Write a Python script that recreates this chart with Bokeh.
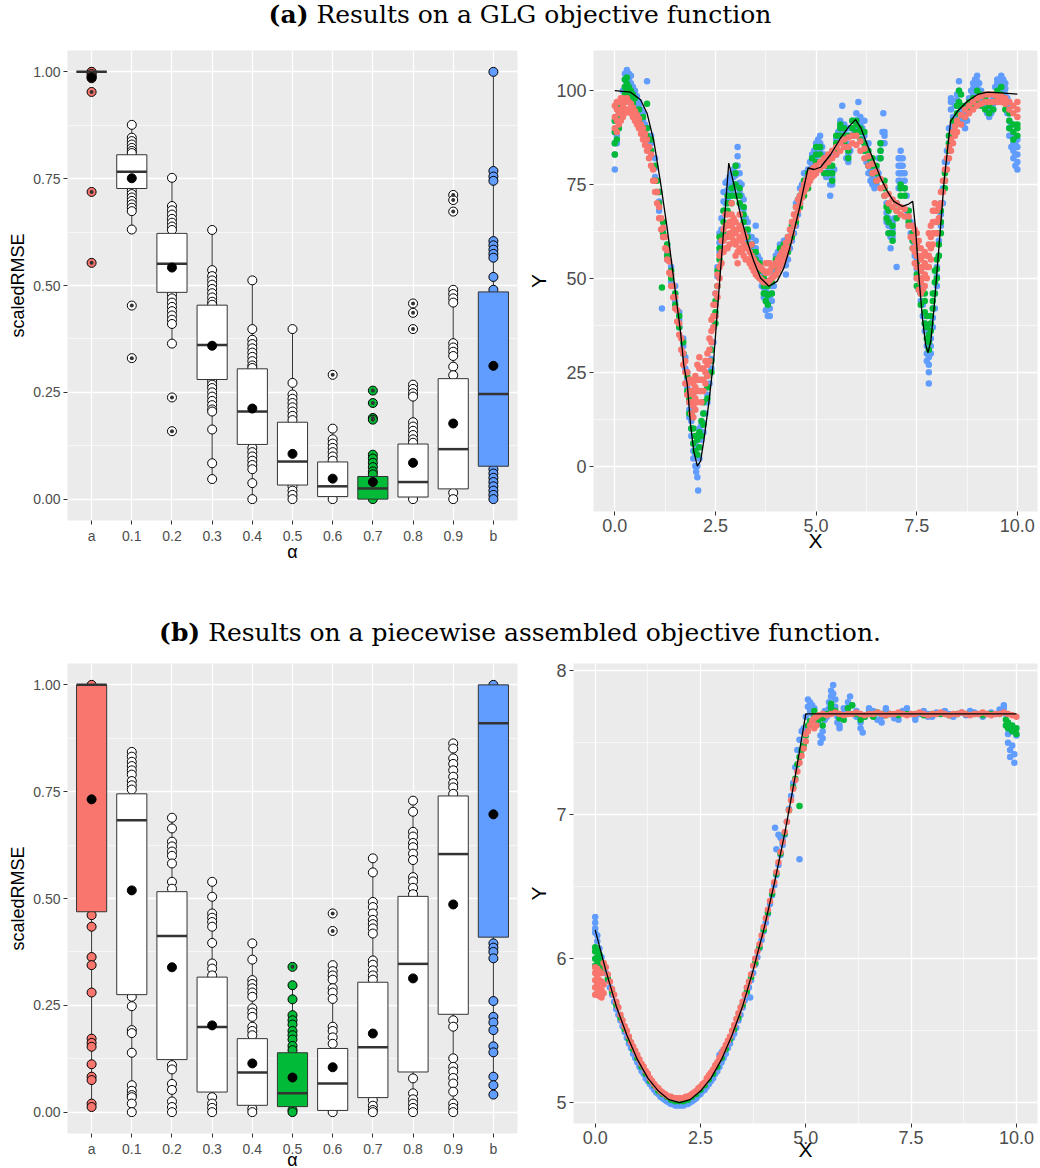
from bokeh.plotting import figure
from bokeh.models import Range1d, FixedTicker, NumeralTickFormatter, Div, ColumnDataSource
from bokeh.layouts import column, row
from bokeh.embed import file_html
from bokeh.resources import INLINE

# ---------------- data ----------------
CATS = ["a", "0.1", "0.2", "0.3", "0.4", "0.5", "0.6", "0.7", "0.8", "0.9", "b"]

# (a) GLG objective: boxplot statistics of scaledRMSE per alpha
GLG_Q1 = [1.000, 0.727, 0.484, 0.280, 0.128, 0.033, 0.006, 0.000, 0.005, 0.024, 0.077]
GLG_MED = [1.000, 0.766, 0.551, 0.361, 0.205, 0.088, 0.030, 0.025, 0.040, 0.117, 0.246]
GLG_Q3 = [1.000, 0.806, 0.622, 0.454, 0.305, 0.180, 0.087, 0.053, 0.129, 0.282, 0.485]
GLG_WLO = [1.000, 0.631, 0.364, 0.047, 0.000, 0.000, 0.000, 0.000, 0.000, 0.000, 0.000]
GLG_WHI = [1.000, 0.876, 0.752, 0.630, 0.512, 0.398, 0.165, 0.104, 0.268, 0.490, 1.000]
GLG_MEAN = [0.987, 0.751, 0.542, 0.359, 0.212, 0.106, 0.048, 0.040, 0.085, 0.177, 0.312]
GLG_PTS = [
    [1.0, 1.0, 0.995, 0.99, 0.985],
    [0.876, 0.846, 0.838, 0.83, 0.822, 0.815, 0.81, 0.722, 0.714, 0.706, 0.698, 0.69, 0.682, 0.674, 0.631],
    [0.752, 0.686, 0.676, 0.666, 0.656, 0.647, 0.638, 0.63, 0.479, 0.47, 0.46, 0.45, 0.44, 0.43, 0.42, 0.41, 0.364],
    [0.630, 0.536, 0.522, 0.512, 0.502, 0.492, 0.482, 0.472, 0.462, 0.455, 0.276, 0.268, 0.26, 0.25, 0.24,
     0.23, 0.22, 0.21, 0.205, 0.163, 0.084, 0.047],
    [0.512, 0.398, 0.373, 0.363, 0.353, 0.343, 0.333, 0.323, 0.313, 0.307, 0.12, 0.11, 0.10, 0.09, 0.08, 0.07,
     0.0375, 0.0],
    [0.398, 0.272, 0.245, 0.235, 0.225, 0.215, 0.205, 0.195, 0.185, 0.03, 0.02, 0.01, 0.0],
    [0.165, 0.14, 0.13, 0.12, 0.11, 0.10, 0.09, 0.0],
    [0.104, 0.095, 0.085, 0.075, 0.065, 0.058, 0.0],
    [0.268, 0.258, 0.248, 0.24, 0.18, 0.17, 0.16, 0.15, 0.14, 0.132, 0.0],
    [0.49, 0.48, 0.47, 0.46, 0.365, 0.355, 0.345, 0.335, 0.31, 0.29, 0.015, 0.0],
    [1.0, 0.768, 0.755, 0.745, 0.604, 0.594, 0.584, 0.574, 0.565, 0.52, 0.49, 0.07, 0.06, 0.05, 0.04, 0.03,
     0.02, 0.01, 0.0],
]
GLG_OUT = [[0.953, 0.719, 0.553], [0.453, 0.330], [0.238, 0.159], [], [], [], [0.291],
           [0.254, 0.225, 0.19, 0.186], [0.458, 0.436, 0.398], [0.712, 0.700, 0.673], []]

# (b) piecewise objective: boxplot statistics
PW_Q1 = [0.469, 0.275, 0.123, 0.047, 0.016, 0.013, 0.004, 0.034, 0.094, 0.229, 0.4095]
PW_MED = [1.000, 0.683, 0.412, 0.199, 0.093, 0.044, 0.067, 0.152, 0.347, 0.604, 0.910]
PW_Q3 = [1.000, 0.745, 0.516, 0.316, 0.172, 0.139, 0.149, 0.304, 0.505, 0.740, 1.000]
PW_WLO = [0.012, 0.0, 0.0, 0.0, 0.0, 0.0, 0.0, 0.0, 0.0, 0.0, 0.040]
PW_WHI = [1.0, 0.843, 0.689, 0.539, 0.395, 0.297, 0.344, 0.594, 0.729, 0.863, 1.0]
PW_MEAN = [0.732, 0.519, 0.339, 0.203, 0.114, 0.081, 0.105, 0.184, 0.313, 0.486, 0.697]
PW_PTS = [
    [1.0, 0.461, 0.434, 0.363, 0.344, 0.280, 0.172, 0.162, 0.153, 0.112, 0.083, 0.075, 0.02, 0.012],
    [0.843, 0.832, 0.82, 0.81, 0.80, 0.79, 0.775, 0.765, 0.755, 0.27, 0.248, 0.192, 0.185, 0.139, 0.063,
     0.05, 0.04, 0.035, 0.02, 0.0],
    [0.689, 0.664, 0.633, 0.622, 0.61, 0.60, 0.582, 0.539, 0.523, 0.11, 0.10, 0.066, 0.052, 0.025, 0.012, 0.0],
    [0.539, 0.504, 0.465, 0.455, 0.445, 0.434, 0.396, 0.348, 0.336, 0.32, 0.035, 0.02, 0.01, 0.0],
    [0.395, 0.357, 0.309, 0.30, 0.29, 0.28, 0.27, 0.243, 0.233, 0.223, 0.20, 0.19, 0.18, 0.008, 0.0],
    [0.297, 0.264, 0.227, 0.215, 0.205, 0.19, 0.18, 0.17, 0.155, 0.145, 0.005, 0.0],
    [0.344, 0.33, 0.32, 0.31, 0.29, 0.28, 0.265, 0.20, 0.19, 0.175, 0.16, 0.0],
    [0.594, 0.561, 0.492, 0.48, 0.465, 0.45, 0.44, 0.43, 0.418, 0.355, 0.345, 0.332, 0.32, 0.31, 0.028,
     0.015, 0.005, 0.0],
    [0.729, 0.703, 0.656, 0.645, 0.63, 0.62, 0.605, 0.59, 0.55, 0.54, 0.525, 0.51, 0.079, 0.044, 0.03,
     0.02, 0.01, 0.0],
    [0.863, 0.851, 0.828, 0.815, 0.80, 0.785, 0.77, 0.76, 0.745, 0.215, 0.2, 0.126, 0.106, 0.095, 0.08,
     0.067, 0.048, 0.02, 0.01, 0.0],
    [1.0, 0.395, 0.385, 0.375, 0.36, 0.26, 0.223, 0.21, 0.192, 0.154, 0.14, 0.083, 0.063, 0.041],
]
PW_OUT = [[], [], [], [], [], [0.340], [0.465, 0.424], [], [], [], []]

# (a) GLG objective: true function (black)
GLG_CURVE_X = [0.0, 0.39, 0.64, 0.80, 0.97, 1.13, 1.30, 1.46, 1.63, 1.71, 1.80, 1.88, 1.96, 2.05, 2.13,
               2.21, 2.34, 2.46, 2.54, 2.63, 2.72, 2.83, 2.96, 3.12, 3.29, 3.45, 3.62, 3.83, 4.03, 4.20,
               4.37, 4.57, 4.80, 4.95, 5.11, 5.36, 5.61, 5.82, 5.98, 6.11, 6.27, 6.44, 6.60, 6.77, 6.93,
               7.14, 7.30, 7.40, 7.47, 7.55, 7.64, 7.72, 7.78, 7.85, 7.93, 8.05, 8.18, 8.34, 8.51, 8.76,
               9.01, 9.26, 9.59, 10.0]
GLG_CURVE_Y = [100.0, 99.6, 97.6, 94.0, 86.5, 75.9, 63.4, 50.1, 35.9, 27.1, 21.7, 11.1, 4.0, 0.0, 1.3,
               6.7, 17.3, 28.8, 40.4, 52.8, 65.2, 80.7, 75.0, 67.0, 59.9, 54.6, 50.1, 47.9, 49.2, 52.8,
               59.0, 67.9, 79.4, 79.0, 79.6, 83.0, 87.4, 90.5, 92.3, 90.1, 85.6, 81.2, 76.8, 73.2, 70.5,
               69.2, 69.8, 70.5, 63.4, 51.0, 39.5, 32.4, 30.2, 33.3, 42.1, 58.1, 75.9, 91.8, 94.5, 97.2,
               99.0, 99.6, 99.4, 99.1]

# (a) fitted points, rows of (x, y readings ...)
GLG_RED = [
    (0.00, 90, 93, 96), (0.05, 89, 92, 95, 97), (0.10, 91, 94, 97), (0.15, 92, 95, 98), (0.20, 93, 96, 98),
    (0.25, 94, 97), (0.30, 95, 98), (0.35, 95, 97), (0.40, 94, 96.5), (0.45, 93, 95.5), (0.50, 92, 94.5),
    (0.55, 91, 93.5), (0.60, 90, 92.5), (0.65, 88.5, 91), (0.70, 87, 90), (0.75, 85.5, 88.5), (0.80, 84, 87),
    (0.85, 82, 85), (0.90, 80, 83), (0.95, 76, 79), (1.00, 73, 76), (1.05, 70, 73), (1.10, 66, 69),
    (1.15, 63, 66), (1.20, 61, 63.5), (1.25, 58, 61), (1.30, 55, 57.5), (1.35, 51.5, 54.5), (1.40, 48, 51),
    (1.45, 45, 48), (1.50, 42, 45), (1.55, 38.5, 41.5), (1.60, 35, 38), (1.65, 31, 34), (1.70, 27, 30),
    (1.75, 22, 25, 28), (1.80, 19, 22, 25), (1.85, 17, 20, 23), (1.90, 14, 17, 20, 23), (1.95, 13, 16, 19, 22),
    (2.00, 15, 18, 21, 24), (2.05, 17, 20, 23, 27), (2.10, 20, 23, 26, 29), (2.15, 17, 20, 23, 26),
    (2.20, 20, 23, 26), (2.25, 22, 25, 28), (2.30, 24, 27, 30), (2.35, 28, 31, 34), (2.40, 33, 36, 39),
    (2.45, 37, 40, 43), (2.50, 40, 43, 46), (2.55, 45, 48, 51), (2.60, 50, 53, 56), (2.65, 54, 57, 60),
    (2.70, 57, 60, 63), (2.75, 58, 61, 64, 67), (2.80, 58, 61, 64, 67), (2.85, 59, 62, 65),
    (2.90, 61, 64, 67, 70), (2.95, 60, 63, 66), (3.00, 56, 59, 62, 65), (3.05, 54, 57, 60, 63),
    (3.10, 58, 61, 64, 67), (3.15, 57, 60, 63), (3.20, 56, 59, 62), (3.25, 55, 58, 61), (3.30, 55, 58),
    (3.35, 54, 57), (3.40, 53, 56, 59), (3.45, 52, 55), (3.50, 51, 54), (3.55, 50.5, 53.5), (3.60, 50, 53),
    (3.65, 49.5, 52.5), (3.70, 49, 52), (3.75, 49, 51.5, 54), (3.80, 49, 51.5, 54), (3.85, 49.5, 52, 54),
    (3.90, 50, 53), (3.95, 50.5, 53.5), (4.00, 51, 54), (4.05, 52, 55), (4.10, 53, 56), (4.15, 54, 57),
    (4.20, 55, 58), (4.25, 56.5, 59.5), (4.30, 58, 61), (4.35, 60, 63), (4.40, 62, 65), (4.45, 64, 67),
    (4.50, 66, 69), (4.55, 68, 71), (4.60, 70, 72), (4.65, 71.5, 73.5), (4.70, 73, 75), (4.75, 74, 76),
    (4.80, 75, 77), (4.85, 76, 78), (4.90, 77, 79), (4.95, 77.5, 79.5), (5.00, 78, 80), (5.10, 79, 81),
    (5.20, 80, 82), (5.30, 81, 83), (5.40, 82, 84), (5.50, 83, 85), (5.60, 84, 86), (5.70, 85, 87),
    (5.80, 85, 87.5), (5.90, 86, 88), (6.00, 85.5, 88), (6.10, 84, 86.5), (6.20, 82, 84.5), (6.30, 80, 82.5),
    (6.40, 78, 80.5), (6.50, 76, 78.5), (6.60, 74, 76.5), (6.70, 72, 74.5), (6.80, 70, 72.5), (6.90, 69, 71),
    (7.00, 68, 70), (7.10, 67, 69), (7.20, 66.5, 68.5), (7.30, 64, 66.5), (7.35, 61, 64), (7.40, 58, 61, 64),
    (7.45, 54, 57, 60, 63), (7.50, 50, 53, 56, 59, 62), (7.55, 47, 50, 53, 56, 60), (7.60, 46, 49, 52, 55, 58),
    (7.65, 47, 50, 53, 56), (7.70, 48, 51, 54, 57), (7.75, 50, 53, 56), (7.80, 53, 56, 59, 62),
    (7.85, 55, 58, 61, 64), (7.90, 59, 62, 65, 68), (7.95, 62, 65, 68, 70), (8.00, 62, 65, 68),
    (8.05, 66, 69), (8.10, 70, 73), (8.15, 73, 76), (8.20, 76, 79), (8.25, 79, 82), (8.30, 82, 85),
    (8.35, 84, 87), (8.40, 86, 89), (8.45, 88, 90.5), (8.50, 89, 92), (8.60, 91, 93.5), (8.70, 93, 95),
    (8.80, 94, 96), (8.90, 95, 97), (9.00, 96, 98), (9.10, 96.5, 98.5), (9.20, 97, 99), (9.30, 97, 99),
    (9.40, 97, 99), (9.50, 97, 98.5), (9.60, 97, 98.5), (9.70, 96.5, 98), (9.80, 95, 97), (9.90, 94, 96),
    (10.00, 93, 95, 97),
]
GLG_GREEN = [
    (0.00, 83, 86, 89, 92), (0.05, 87, 90, 93), (0.10, 90, 93), (0.15, 93, 96), (0.20, 95, 98),
    (0.25, 99, 101, 103), (0.30, 100, 102, 103.5), (0.35, 99, 101), (0.40, 98, 100), (0.45, 96.5, 99),
    (0.50, 95, 98), (0.60, 92, 95), (0.70, 90, 93), (0.80, 88, 90, 96.5), (0.90, 84, 87), (1.00, 76, 80),
    (1.05, 73, 76), (1.10, 70, 73), (1.17, 47.6), (1.20, 62, 65), (1.30, 56, 59), (1.40, 50, 52),
    (1.50, 43, 46), (1.60, 37, 40), (1.70, 30, 33), (1.80, 20, 24), (1.85, 14, 18), (1.90, 10, 14),
    (1.95, 6, 10), (2.00, 4, 8), (2.05, 3, 7), (2.10, 5, 9), (2.15, 8, 12), (2.20, 11, 14, 17),
    (2.30, 18, 21, 24), (2.40, 25, 28, 31), (2.50, 38, 41, 44), (2.55, 48, 52), (2.60, 55, 58, 61),
    (2.70, 62, 65, 68), (2.80, 68, 70, 72), (2.90, 70, 72, 74), (3.00, 72, 75, 78, 80), (3.10, 70, 72, 74),
    (3.20, 65, 67, 69), (3.30, 59, 61, 63), (3.40, 55, 57, 59), (3.50, 53, 55, 57), (3.60, 50, 52, 54),
    (3.70, 46, 48, 50), (3.75, 44, 46, 48), (3.80, 43, 45.5, 48), (3.90, 46, 49), (4.00, 51, 53, 55),
    (4.10, 55, 58), (4.20, 56, 59), (4.30, 57, 59, 61), (4.40, 61, 64), (4.50, 65, 67, 69), (4.60, 69, 72),
    (4.70, 72, 74, 76), (4.80, 74, 76, 78), (4.90, 79, 82), (5.00, 81, 83, 85), (5.10, 81, 83, 85),
    (5.20, 78, 80, 82), (5.30, 78, 80, 82), (5.40, 76, 78, 80), (5.50, 84, 86, 88), (5.60, 88, 90, 91),
    (5.70, 86, 88, 90), (5.80, 82, 84, 88), (5.90, 88, 90, 92), (6.00, 89, 91, 92), (6.10, 87, 89, 90),
    (6.20, 84, 86, 89), (6.30, 80, 82, 84), (6.40, 78, 80, 82), (6.50, 76, 78, 80), (6.60, 82, 84, 86),
    (6.70, 72, 74, 76), (6.75, 66, 69), (6.80, 62, 65, 68), (6.90, 60, 62, 64), (7.00, 66, 68, 70),
    (7.10, 72, 74, 75), (7.20, 72, 74), (7.30, 65, 68), (7.40, 58, 60, 62), (7.50, 48, 51, 54, 58),
    (7.60, 43, 46, 49, 52), (7.70, 38, 41, 44, 46), (7.75, 34, 37, 40), (7.80, 31, 33, 35),
    (7.85, 36, 38, 40), (7.90, 42, 44, 46), (7.95, 46, 49, 52), (8.00, 50, 52.5, 55), (8.05, 56, 59, 62),
    (8.10, 62, 65, 68), (8.20, 74, 76, 78), (8.30, 84, 86, 88), (8.40, 89, 92), (8.50, 92, 94, 96),
    (8.55, 97, 100), (8.60, 96, 99), (8.70, 93, 96), (8.80, 95, 97), (8.90, 96, 98), (9.00, 97, 100),
    (9.10, 96, 99), (9.20, 95, 98), (9.30, 94, 96), (9.40, 95, 97), (9.50, 98, 100), (9.60, 99, 101),
    (9.70, 95, 97), (9.80, 90, 92, 94), (9.90, 87, 89, 91), (10.00, 88, 90, 91),
]
GLG_BLUE = [
    (0.00, 79, 83, 86, 89, 92), (0.05, 86, 88, 90), (0.10, 90, 92, 94), (0.15, 93, 96), (0.20, 96, 98, 100),
    (0.25, 101, 103, 104.5), (0.30, 102, 104, 105.5), (0.35, 101, 103, 104.5), (0.40, 100, 102, 104),
    (0.45, 99, 101), (0.50, 97, 99, 100), (0.55, 96, 98.5), (0.60, 94, 96, 97), (0.65, 92, 95),
    (0.70, 90, 92, 94), (0.75, 88, 91), (0.80, 86, 88, 90, 102.5), (0.90, 84, 86, 88), (1.00, 77, 79.5, 82),
    (1.10, 68, 70.5, 73), (1.17, 42), (1.20, 61, 63, 65), (1.30, 55, 57, 59), (1.40, 49, 51, 53),
    (1.50, 44, 46, 48), (1.60, 37, 39, 41), (1.70, 30, 32, 34), (1.75, 26, 29), (1.80, 21, 23, 25),
    (1.85, 13, 15, 17), (1.90, 8, 10, 12), (1.95, 2, 4, 6), (2.00, 0, 3, 6), (2.02, -1.5),
    (2.05, -3, 0, 3, 5), (2.07, -6.5), (2.10, 2, 5, 8, 10), (2.15, 7, 9, 11), (2.20, 9, 11.5, 14),
    (2.25, 14, 17), (2.30, 17, 19, 21), (2.35, 22, 25), (2.40, 26, 28.5, 31), (2.45, 33, 37),
    (2.50, 40, 43, 46), (2.55, 48, 50.5, 53), (2.60, 57, 59.5, 62), (2.65, 63, 66), (2.70, 68, 70.5, 73),
    (2.75, 70, 73, 75.5), (2.80, 71, 73.5, 76), (2.85, 72, 74.5, 77), (2.90, 73, 75.5, 78), (2.95, 74, 77, 79),
    (3.00, 75, 77.5, 80), (3.05, 80, 82.5, 85), (3.10, 73, 75.5, 78), (3.15, 69, 72, 75), (3.20, 66, 68.5, 71),
    (3.25, 63, 66), (3.30, 60, 62.5, 65), (3.35, 58, 61), (3.40, 57, 59, 61), (3.45, 56, 58),
    (3.50, 56, 58, 60, 64), (3.55, 53, 56), (3.60, 51, 53, 55), (3.65, 48, 51), (3.70, 45, 47.5, 50),
    (3.75, 41.5, 44, 47), (3.80, 40, 42, 44, 46, 48), (3.85, 40, 42, 45), (3.90, 44, 46, 48), (3.95, 48, 51),
    (4.00, 52, 54, 56), (4.05, 54, 57), (4.10, 55, 57, 59), (4.15, 55, 58), (4.20, 56, 58, 60),
    (4.25, 51, 53.5, 56), (4.30, 55, 57, 59), (4.35, 58, 61), (4.40, 60, 62, 64), (4.45, 62, 65),
    (4.50, 64, 67, 70), (4.55, 67, 71), (4.60, 70, 72, 74), (4.65, 72, 75), (4.70, 74, 76, 78), (4.75, 75, 78),
    (4.80, 76, 77.5, 79), (4.85, 78, 81), (4.90, 80, 81.5, 83), (4.95, 81, 84), (5.00, 82, 84, 86),
    (5.05, 84, 87), (5.10, 84, 86, 88), (5.15, 81, 85), (5.20, 78, 80.5, 83), (5.25, 77, 80),
    (5.30, 77, 79, 81), (5.35, 72, 75, 78), (5.40, 75, 77, 79), (5.45, 79, 83), (5.50, 83, 85, 87),
    (5.55, 86, 89), (5.60, 88, 90, 92), (5.65, 90, 96), (5.70, 87, 89, 91), (5.75, 82, 86, 90),
    (5.80, 81, 83, 85, 90), (5.85, 84, 88), (5.90, 88, 90, 92), (5.95, 89, 92), (6.00, 90, 92, 94),
    (6.05, 92, 97), (6.10, 89, 91, 93), (6.15, 87, 90), (6.20, 84, 86, 88, 92), (6.25, 81, 85),
    (6.30, 78, 80, 82, 86), (6.35, 76, 79), (6.40, 75, 77, 79), (6.45, 74, 77), (6.50, 75, 77, 79),
    (6.55, 78, 82), (6.60, 82, 84, 86), (6.65, 86, 89), (6.67, 94), (6.70, 86, 88, 89), (6.75, 65, 67.5, 70),
    (6.80, 62, 64, 66), (6.85, 58, 61), (6.90, 61, 63, 65), (6.95, 66), (7.00, 53),
    (7.05, 74, 76, 78, 80, 82), (7.10, 76, 78, 80, 82, 84), (7.15, 78, 80, 82), (7.20, 74, 76, 78),
    (7.25, 68, 72), (7.30, 64, 66, 68), (7.35, 62, 65), (7.40, 60, 62, 64), (7.45, 56, 59),
    (7.50, 50, 52.5, 55, 59), (7.55, 47, 50), (7.60, 44, 46, 48), (7.65, 40, 43), (7.70, 36, 38, 40),
    (7.75, 28, 30, 32), (7.80, 22, 25, 27, 29), (7.85, 30, 32, 34), (7.90, 37, 39.5, 42), (7.95, 42, 46),
    (8.00, 48, 50.5, 53), (8.05, 56, 60), (8.10, 64, 67, 70), (8.15, 70, 74), (8.20, 76, 78.5, 81),
    (8.25, 81, 84), (8.30, 86, 88, 90), (8.35, 95, 97, 98), (8.40, 90, 91.5, 93), (8.45, 93, 96),
    (8.50, 96, 97.5, 99), (8.55, 100, 102.5), (8.60, 92, 93.5, 95), (8.65, 91, 94), (8.70, 90, 92, 94),
    (8.75, 92, 95), (8.80, 95, 96.5, 98), (8.85, 97, 100), (8.90, 99, 100.5, 102), (8.95, 100, 103),
    (9.00, 101, 102.5, 104), (9.05, 100, 102), (9.10, 98, 99, 100), (9.15, 97, 99), (9.20, 96, 97, 98),
    (9.25, 94, 97), (9.30, 93, 95, 97), (9.35, 94, 97), (9.40, 95, 96.5, 98), (9.45, 98, 101),
    (9.50, 101, 102, 103), (9.55, 101, 103), (9.60, 101, 102.5, 104), (9.65, 100, 103), (9.70, 99, 100.5, 102),
    (9.75, 94, 98), (9.80, 88, 90, 92, 94, 96), (9.85, 85, 88, 91), (9.90, 82, 84, 86, 88), (9.95, 80, 83, 86),
    (10.00, 79, 81, 83, 85, 87),
]

# (b) piecewise objective: true function
PW_CURVE_X = [0.0, 0.25, 0.5, 0.75, 1.0, 1.25, 1.5, 1.75, 2.0, 2.25, 2.5, 2.75, 3.0, 3.25, 3.5, 3.75,
              4.0, 4.25, 4.5, 4.75, 5.0, 10.0]
PW_CURVE_Y = [6.20, 5.92, 5.67, 5.47, 5.30, 5.17, 5.08, 5.02, 5.00, 5.02, 5.08, 5.17, 5.30, 5.47, 5.67,
              5.92, 6.20, 6.52, 6.87, 7.27, 7.70, 7.70]

PW_RED = [
    (0.00, 5.75, 5.80, 5.85, 5.90, 5.94), (0.05, 5.76, 5.82, 5.88, 5.93), (0.10, 5.74, 5.79, 5.85, 5.91),
    (0.15, 5.73, 5.78, 5.84, 5.90), (0.20, 5.76, 5.82, 5.97), (0.25, 5.94), (0.30, 5.89), (0.35, 5.84),
    (0.40, 5.79), (0.45, 5.75), (0.50, 5.70), (0.55, 5.66), (0.60, 5.61), (0.65, 5.57), (0.70, 5.53),
    (0.75, 5.50), (0.80, 5.46), (0.85, 5.42), (0.90, 5.39), (0.95, 5.36), (1.00, 5.33), (1.05, 5.30),
    (1.10, 5.27), (1.15, 5.25), (1.20, 5.22), (1.25, 5.20), (1.30, 5.17), (1.35, 5.15), (1.40, 5.13),
    (1.45, 5.11), (1.50, 5.10), (1.55, 5.08), (1.60, 5.07), (1.65, 5.06), (1.70, 5.05), (1.75, 5.04),
    (1.80, 5.04), (1.85, 5.03), (1.90, 5.03), (1.95, 5.03), (2.00, 5.03), (2.05, 5.03), (2.10, 5.03),
    (2.15, 5.04), (2.20, 5.04), (2.25, 5.05), (2.30, 5.06), (2.35, 5.07), (2.40, 5.08), (2.45, 5.10),
    (2.50, 5.11), (2.55, 5.13), (2.60, 5.14), (2.65, 5.17), (2.70, 5.19), (2.75, 5.21), (2.80, 5.23),
    (2.85, 5.26), (2.90, 5.28), (2.95, 5.31), (3.00, 5.34), (3.05, 5.37), (3.10, 5.40), (3.15, 5.43),
    (3.20, 5.46), (3.25, 5.50), (3.30, 5.54), (3.35, 5.58), (3.40, 5.62), (3.45, 5.66), (3.50, 5.70),
    (3.55, 5.75), (3.60, 5.80), (3.65, 5.84), (3.70, 5.89), (3.75, 5.95), (3.80, 6.00), (3.85, 6.05),
    (3.90, 6.10), (3.95, 6.16), (4.00, 6.22), (4.05, 6.28), (4.10, 6.34), (4.15, 6.40), (4.20, 6.47),
    (4.25, 6.53), (4.30, 6.60), (4.35, 6.67), (4.40, 6.74), (4.45, 6.81), (4.50, 6.88), (4.55, 6.95),
    (4.60, 7.03), (4.65, 7.10), (4.70, 7.18), (4.75, 7.24), (4.80, 7.30), (4.85, 7.36), (4.90, 7.41),
    (4.95, 7.46), (5.00, 7.51, 7.56), (5.05, 7.58), (5.10, 7.62), (5.15, 7.65), (5.20, 7.60, 7.67),
    (5.25, 7.62, 7.68), (5.30, 7.69), (5.40, 7.70), (5.50, 7.69), (5.60, 7.70), (5.70, 7.71), (5.80, 7.70),
    (5.90, 7.69), (6.00, 7.70), (6.10, 7.70), (6.20, 7.71), (6.30, 7.70), (6.40, 7.69), (6.50, 7.70),
    (6.60, 7.70), (6.70, 7.71), (6.80, 7.70), (6.90, 7.69), (7.00, 7.70), (7.10, 7.70), (7.20, 7.71),
    (7.30, 7.70), (7.40, 7.69), (7.50, 7.70), (7.60, 7.70), (7.70, 7.71), (7.80, 7.70), (7.90, 7.69),
    (8.00, 7.70), (8.10, 7.70), (8.20, 7.71), (8.30, 7.70), (8.40, 7.69), (8.50, 7.70), (8.60, 7.70),
    (8.70, 7.71), (8.80, 7.70), (8.90, 7.69), (9.00, 7.70), (9.10, 7.70), (9.20, 7.71), (9.30, 7.70),
    (9.40, 7.69), (9.50, 7.70), (9.60, 7.70), (9.70, 7.71), (9.80, 7.70), (9.90, 7.69), (10.00, 7.68),
]
PW_GREEN = [
    (0.00, 5.95, 6.00, 6.05, 6.08), (0.05, 5.96, 6.01, 6.06), (0.10, 5.94, 5.99, 6.03), (0.15, 5.92, 5.97),
    (0.2, 5.96), (0.3, 5.86), (0.4, 5.77), (0.5, 5.68), (0.6, 5.59), (0.7, 5.51), (0.8, 5.44), (0.9, 5.37),
    (1.0, 5.31), (1.1, 5.25), (1.2, 5.20), (1.3, 5.15), (1.4, 5.12), (1.5, 5.08), (1.6, 5.06), (1.7, 5.04),
    (1.8, 5.02), (1.9, 5.01), (2.0, 5.01), (2.1, 5.01), (2.2, 5.02), (2.3, 5.04), (2.4, 5.06), (2.5, 5.09),
    (2.6, 5.12), (2.7, 5.16), (2.8, 5.20), (2.9, 5.25), (3.0, 5.31), (3.1, 5.37), (3.2, 5.44), (3.3, 5.51),
    (3.4, 5.59), (3.5, 5.68), (3.6, 5.77), (3.7, 5.87), (3.8, 5.97), (3.9, 6.08), (4.0, 6.20), (4.1, 6.32),
    (4.2, 6.45), (4.3, 6.59), (4.4, 6.73), (4.5, 6.87), (4.6, 7.03), (4.7, 7.19), (4.75, 7.25), (4.8, 7.35),
    (4.85, 7.06, 7.40), (4.9, 7.45), (4.95, 7.48), (5.0, 7.55), (5.05, 7.62), (5.1, 7.65), (5.2, 7.68, 7.72),
    (5.3, 7.66), (5.4, 7.62, 7.67), (5.5, 7.70), (5.6, 7.74, 7.77), (5.7, 7.72), (5.8, 7.67), (5.9, 7.66),
    (6.0, 7.74), (6.1, 7.76), (6.2, 7.70), (6.3, 7.66), (6.4, 7.68), (6.5, 7.70), (6.6, 7.68), (6.7, 7.71),
    (6.8, 7.70), (6.9, 7.69), (7.0, 7.70), (7.2, 7.69), (7.4, 7.70), (7.6, 7.70), (7.8, 7.69), (8.0, 7.70),
    (8.2, 7.70), (8.4, 7.69), (8.6, 7.70), (8.8, 7.70), (9.0, 7.70), (9.2, 7.69), (9.4, 7.70), (9.6, 7.70),
    (9.75, 7.66, 7.62), (9.8, 7.64, 7.60), (9.9, 7.62, 7.58), (10.0, 7.60, 7.56),
]
PW_BLUE = [
    (0.00, 6.29, 6.25, 6.21, 6.18), (0.05, 6.16, 6.12), (0.1, 6.07), (0.15, 6.01), (0.2, 5.95), (0.25, 5.90),
    (0.3, 5.85), (0.35, 5.80), (0.4, 5.75), (0.45, 5.70), (0.5, 5.65), (0.55, 5.61), (0.6, 5.57), (0.65, 5.53),
    (0.7, 5.49), (0.75, 5.45), (0.8, 5.41), (0.85, 5.38), (0.9, 5.34), (0.95, 5.31), (1.0, 5.28), (1.05, 5.25),
    (1.1, 5.22), (1.15, 5.20), (1.2, 5.17), (1.25, 5.15), (1.3, 5.13), (1.35, 5.11), (1.4, 5.09), (1.45, 5.07),
    (1.5, 5.06), (1.55, 5.04), (1.6, 5.03), (1.65, 5.02), (1.7, 5.01), (1.75, 5.00), (1.8, 4.99), (1.85, 4.99),
    (1.9, 4.98), (1.95, 4.98), (2.0, 4.98), (2.05, 4.98), (2.1, 4.98), (2.15, 4.99), (2.2, 4.99), (2.25, 5.00),
    (2.3, 5.01), (2.35, 5.02), (2.4, 5.03), (2.45, 5.05), (2.5, 5.06), (2.55, 5.08), (2.6, 5.09), (2.65, 5.11),
    (2.7, 5.13), (2.75, 5.15), (2.8, 5.17), (2.85, 5.20), (2.9, 5.22), (2.95, 5.25, 5.33), (3.0, 5.28, 5.35),
    (3.05, 5.31), (3.1, 5.34), (3.15, 5.38), (3.2, 5.41), (3.25, 5.45), (3.3, 5.48), (3.35, 5.52), (3.4, 5.57),
    (3.45, 5.61), (3.5, 5.66), (3.55, 5.71), (3.6, 5.76), (3.65, 5.80), (3.68, 5.73), (3.7, 5.85),
    (3.75, 5.90), (3.8, 5.96), (3.85, 6.01), (3.9, 6.07), (3.95, 6.13), (4.0, 6.19), (4.05, 6.25),
    (4.1, 6.31), (4.15, 6.38), (4.2, 6.44), (4.25, 6.51), (4.27, 6.91), (4.3, 6.58, 6.76), (4.35, 6.65, 6.86),
    (4.4, 6.72, 6.84), (4.45, 6.79, 6.82), (4.5, 6.86), (4.55, 6.95), (4.6, 7.04), (4.65, 7.13), (4.7, 7.22),
    (4.75, 7.33), (4.8, 7.45), (4.85, 7.52, 6.69), (4.9, 7.58), (4.95, 7.60), (5.0, 7.60, 7.68),
    (5.05, 7.75, 7.80), (5.1, 7.72, 7.78), (5.15, 7.70, 7.76), (5.2, 7.66, 7.74), (5.3, 7.63),
    (5.35, 7.55, 7.50), (5.4, 7.58, 7.53), (5.45, 7.66, 7.72), (5.5, 7.72, 7.68), (5.55, 7.78, 7.74),
    (5.6, 7.82, 7.86), (5.65, 7.90, 7.84), (5.7, 7.80, 7.75), (5.75, 7.68, 7.64), (5.8, 7.62, 7.60),
    (5.85, 7.68), (5.9, 7.74, 7.70), (6.0, 7.78, 7.74), (6.05, 7.82), (6.1, 7.76), (6.2, 7.72, 7.68),
    (6.3, 7.64, 7.60), (6.35, 7.57), (6.4, 7.68), (6.5, 7.74, 7.72), (6.6, 7.72, 7.70), (6.7, 7.66),
    (6.8, 7.64, 7.68), (6.9, 7.72, 7.74), (7.0, 7.70), (7.1, 7.67), (7.2, 7.66, 7.70), (7.3, 7.72),
    (7.4, 7.74, 7.71), (7.5, 7.70), (7.6, 7.68, 7.66), (7.7, 7.70), (7.8, 7.72), (7.9, 7.70, 7.68),
    (8.0, 7.68), (8.1, 7.71), (8.2, 7.70), (8.3, 7.72), (8.4, 7.70), (8.5, 7.68), (8.6, 7.70), (8.7, 7.71),
    (8.8, 7.69), (8.9, 7.72), (9.0, 7.71), (9.1, 7.70), (9.2, 7.68), (9.3, 7.70), (9.4, 7.71), (9.5, 7.70),
    (9.6, 7.73), (9.7, 7.76, 7.74), (9.75, 7.70), (9.8, 7.62, 7.56, 7.50), (9.85, 7.45, 7.40),
    (9.9, 7.58, 7.48), (9.95, 7.42, 7.36), (10.0, 7.55),
]

# ---------------- styling constants ----------------
RED, GREEN, BLUE = "#F8766D", "#00BA38", "#619CFF"
PANEL_BG = "#EBEBEB"
SANS = "Liberation Sans"


def flat(rows):
    xs, ys = [], []
    for r in rows:
        for y in r[1:]:
            xs.append(r[0])
            ys.append(y)
    return xs, ys


def style(p, tick_size, label_size, xstand, ystand):
    p.background_fill_color = PANEL_BG
    p.border_fill_color = "white"
    p.outline_line_color = None
    for ax in p.axis:
        ax.axis_line_color = None
        ax.major_tick_line_color = "#333333"
        ax.major_tick_line_width = 1
        ax.major_tick_in = 0
        ax.major_tick_out = 4
        ax.minor_tick_line_color = None
        ax.major_label_text_color = "#4D4D4D"
        ax.major_label_text_font = SANS
        ax.major_label_text_font_size = tick_size
        ax.major_label_standoff = 3
        ax.axis_label_text_font = SANS
        ax.axis_label_text_font_size = label_size
        ax.axis_label_text_font_style = "normal"
        ax.axis_label_text_color = "black"
    p.xaxis.axis_label_standoff = xstand
    p.yaxis.axis_label_standoff = ystand
    p.grid.grid_line_color = "white"
    p.grid.grid_line_width = 1.3
    p.grid.minor_grid_line_color = "white"
    p.grid.minor_grid_line_width = 0.6


def box_panel(q1, med, q3, wlo, whi, mean, pts, outs, green_idx, top, bottom, xstand):
    p = figure(frame_width=450, frame_height=470, min_border_left=67, min_border_right=3,
               min_border_top=top, min_border_bottom=bottom,
               x_range=Range1d(0.4, 11.6), y_range=Range1d(-0.05, 1.05),
               output_backend="svg", toolbar_location=None,
               x_axis_label="α", y_axis_label="scaledRMSE")
    xt = FixedTicker(ticks=list(range(1, len(CATS) + 1)))
    p.xaxis.ticker = xt
    p.xgrid.ticker = xt
    p.xaxis.major_label_overrides = {i + 1: c for i, c in enumerate(CATS)}
    yt = FixedTicker(ticks=[0, 0.25, 0.5, 0.75, 1.0], minor_ticks=[0.125, 0.375, 0.625, 0.875])
    p.yaxis.ticker = yt
    p.ygrid.ticker = yt
    p.yaxis.formatter = NumeralTickFormatter(format="0.00")
    style(p, "14px", "18px", xstand, 2)
    p.xgrid.minor_grid_line_color = None

    xs = list(range(1, len(CATS) + 1))
    fills = ["white"] * len(CATS)
    fills[0] = RED
    fills[green_idx] = GREEN
    fills[-1] = BLUE

    # whiskers
    p.segment(x0=xs, y0=q3, x1=xs, y1=whi, line_color="#333333", line_width=1)
    p.segment(x0=xs, y0=q1, x1=xs, y1=wlo, line_color="#333333", line_width=1)

    # individual results
    px, py, pf = [], [], []
    for i, (vals, ov) in enumerate(zip(pts, outs)):
        for v in list(vals) + list(ov):
            px.append(xs[i])
            py.append(v)
            pf.append(fills[i])
    src = ColumnDataSource(dict(x=px, y=py, f=pf))
    p.scatter("x", "y", source=src, size=9, fill_color="f", line_color="black", line_width=1)

    # boxes
    p.quad(left=[x - 0.375 for x in xs], right=[x + 0.375 for x in xs], bottom=q1, top=q3,
           fill_color=fills, line_color="#333333", line_width=1)
    p.segment(x0=[x - 0.375 for x in xs], y0=med, x1=[x + 0.375 for x in xs], y1=med,
              line_color="#333333", line_width=2.5)

    # outlier marks
    ox, oy = [], []
    for i, ov in enumerate(outs):
        for v in ov:
            ox.append(xs[i])
            oy.append(v)
    p.scatter(ox, oy, size=4, fill_color="#333333", line_color=None)

    # means
    p.scatter(xs, mean, size=9, fill_color="black", line_color="black")
    return p


def scatter_panel(red, green, blue, cx, cy, frame_w, frame_h, left, top, bottom, xr, yr, yticks, yminor,
                  xstand):
    p = figure(frame_width=frame_w, frame_height=frame_h, min_border_left=left, min_border_right=3,
               min_border_top=top, min_border_bottom=bottom,
               x_range=Range1d(*xr), y_range=Range1d(*yr),
               output_backend="svg", toolbar_location=None,
               x_axis_label="X", y_axis_label="Y")
    xt = FixedTicker(ticks=[0, 2.5, 5, 7.5, 10], minor_ticks=[1.25, 3.75, 6.25, 8.75])
    p.xaxis.ticker = xt
    p.xgrid.ticker = xt
    p.xaxis.formatter = NumeralTickFormatter(format="0.0")
    yt = FixedTicker(ticks=yticks, minor_ticks=yminor)
    p.yaxis.ticker = yt
    p.ygrid.ticker = yt
    p.yaxis.formatter = NumeralTickFormatter(format="0")
    style(p, "18px", "21px", xstand, 3)

    for rows, col in ((blue, BLUE), (green, GREEN), (red, RED)):
        x, y = flat(rows)
        p.scatter(x, y, size=6.5, fill_color=col, line_color=None)
    p.line(cx, cy, line_color="black", line_width=1.3)
    return p


def title_div(html, height, pad):
    return Div(text=('<div style="width:1040px;text-align:center;font-family:\'DejaVu Serif\';'
                     'font-size:25px;line-height:30px;color:black;padding-top:%dpx;">%s</div>' % (pad, html)),
               width=1040, height=height, margin=0)


# ---------------- panels ----------------
p1 = box_panel(GLG_Q1, GLG_MED, GLG_Q3, GLG_WLO, GLG_WHI, GLG_MEAN, GLG_PTS, GLG_OUT, 7, 8, 52, -5)
p2 = scatter_panel(GLG_RED, GLG_GREEN, GLG_BLUE, GLG_CURVE_X, GLG_CURVE_Y, 444, 461, 73, 7, 62,
                   (-0.53, 10.5), (-12.1, 110.7), [0, 25, 50, 75, 100], [12.5, 37.5, 62.5, 87.5], -6)
p3 = box_panel(PW_Q1, PW_MED, PW_Q3, PW_WLO, PW_WHI, PW_MEAN, PW_PTS, PW_OUT, 5, 13, 30, -10)
p4 = scatter_panel(PW_RED, PW_GREEN, PW_BLUE, PW_CURVE_X, PW_CURVE_Y, 464, 460, 53, 13, 40,
                   (-0.515, 10.5), (4.855, 8.05), [5, 6, 7, 8], [5.5, 6.5, 7.5], -9)

t1 = title_div("<b>(a)</b> Results on a GLG objective function", 42, 0)
t2 = title_div("<b>(b)</b> Results on a piecewise assembled objective function.", 78, 46)

layout = column(t1, row(p1, p2), t2, row(p3, p4))

open("out.html", "w").write(file_html(layout, INLINE, title="GLG and piecewise results"))
